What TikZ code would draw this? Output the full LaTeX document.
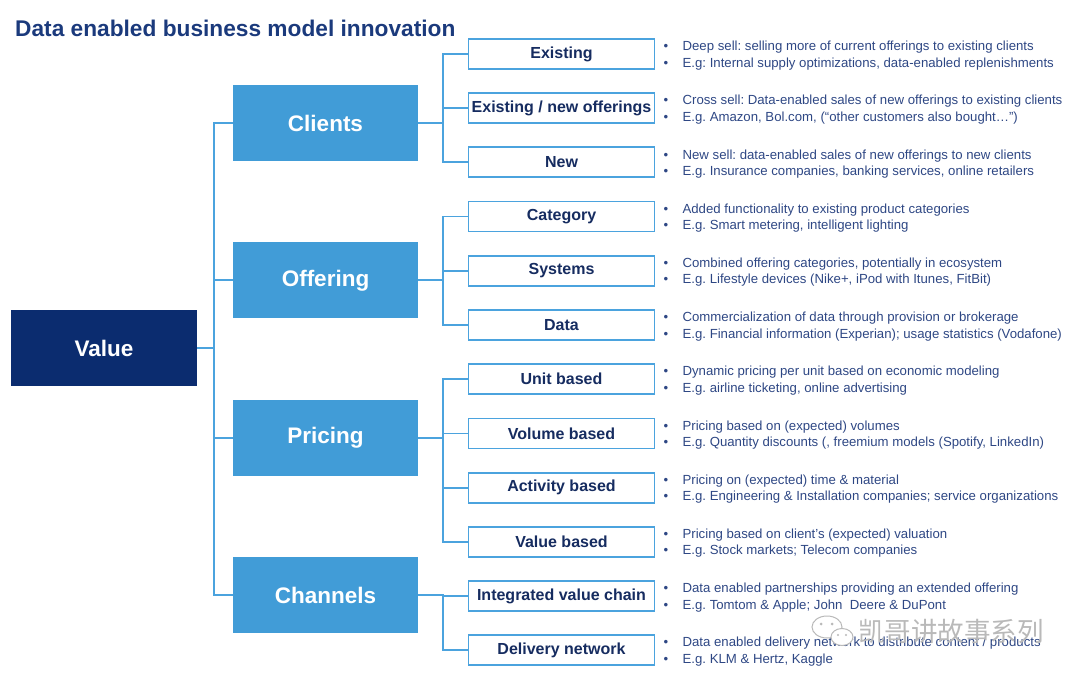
\documentclass[tikz,border=0pt]{standalone}
\usepackage{fontspec}
\setmainfont{Liberation Sans}
\newfontfamily\cjk{Noto Sans CJK SC}
\usetikzlibrary{positioning}
\definecolor{navy}{HTML}{0B2C6F}
\definecolor{titleblue}{HTML}{1B3A7C}
\definecolor{midblue}{HTML}{419CD7}
\definecolor{lineblue}{HTML}{4BA3DE}
\definecolor{subtext}{HTML}{162C60}
\definecolor{desctext}{HTML}{2E4784}
\newcommand\bul{\makebox[19pt][l]{\textbullet}}
\frenchspacing

\begin{document}
\begin{tikzpicture}[x=1pt,y=-1pt,% one unit = one pixel of the slide
					every node/.style={
						align=center,		% so that "\\" breaks lines
						inner sep=0pt
						},
					valbox/.style={rectangle,fill=navy,text=white,minimum width=186pt,minimum height=76pt,font=\fontsize{22.5}{26}\selectfont\bfseries},
					catbox/.style={rectangle,fill=midblue,text=white,minimum width=185pt,minimum height=76pt,font=\fontsize{22.5}{26}\selectfont\bfseries},
					subbox/.style={rectangle,draw=lineblue,line width=1.8pt,fill=white,text=subtext,minimum width=186pt,minimum height=30pt,font=\fontsize{16}{19}\selectfont\bfseries},
					desc/.style={align=left,text=desctext,yshift=-1.5pt,font=\fontsize{13.2}{16.5}\selectfont},
					conn/.style={draw=lineblue,line width=1.8pt},
					wmark/.style={text=gray!55,font=\fontsize{26.5}{30}\selectfont\cjk}
					]
\useasboundingbox (0,0) rectangle (1080,679);
\node[anchor=base west,text=titleblue,font=\fontsize{22.7}{27}\selectfont\bfseries](T) at (15,37){Data enabled business model innovation};
% left column
\node[valbox](Val) at (104,348){Value};
\node[catbox](Cli) at (325.5,123){Clients};
\node[catbox](Off)[below=81pt of Cli]{Offering};
\node[catbox](Pri)[below=81pt of Off]{Pricing};
\node[catbox](Cha)[below=81pt of Pri]{Channels};
% second column
\node[subbox](S1) at (561.5,54){Existing};
\node[subbox](S2)[below=22.4pt of S1]{Existing / new offerings};
\node[subbox](S3)[below=22.4pt of S2]{New};
\node[subbox](S4)[below=22.4pt of S3]{Category};
\node[subbox](S5)[below=22.4pt of S4]{Systems};
\node[subbox](S6)[below=22.4pt of S5]{Data};
\node[subbox](S7)[below=22.4pt of S6]{Unit based};
\node[subbox](S8)[below=22.4pt of S7]{Volume based};
\node[subbox](S9)[below=22.4pt of S8]{Activity based};
\node[subbox](S10)[below=22.4pt of S9]{Value based};
\node[subbox](S11)[below=22.4pt of S10]{Integrated value chain};
\node[subbox](S12)[below=22.4pt of S11]{Delivery network};
% bullets
\node[desc](D1)[right=8pt of S1]{\bul Deep sell: selling more of current offerings to existing clients\\\bul E.g: Internal supply optimizations, data-enabled replenishments};
\node[desc](D2)[right=8pt of S2]{\bul Cross sell: Data-enabled sales of new offerings to existing clients\\\bul E.g. Amazon, Bol.com, (“other customers also bought…”)};
\node[desc](D3)[right=8pt of S3]{\bul New sell: data-enabled sales of new offerings to new clients\\\bul E.g. Insurance companies, banking services, online retailers};
\node[desc](D4)[right=8pt of S4]{\bul Added functionality to existing product categories\\\bul E.g. Smart metering, intelligent lighting};
\node[desc](D5)[right=8pt of S5]{\bul Combined offering categories, potentially in ecosystem\\\bul E.g. Lifestyle devices (Nike+, iPod with Itunes, FitBit)};
\node[desc](D6)[right=8pt of S6]{\bul Commercialization of data through provision or brokerage\\\bul E.g. Financial information (Experian); usage statistics (Vodafone)};
\node[desc](D7)[right=8pt of S7]{\bul Dynamic pricing per unit based on economic modeling\\\bul E.g. airline ticketing, online advertising};
\node[desc](D8)[right=8pt of S8]{\bul Pricing based on (expected) volumes\\\bul E.g. Quantity discounts (, freemium models (Spotify, LinkedIn)};
\node[desc](D9)[right=8pt of S9]{\bul Pricing on (expected) time \& material\\\bul E.g. Engineering \& Installation companies; service organizations};
\node[desc](D10)[right=8pt of S10]{\bul Pricing based on client’s (expected) valuation\\\bul E.g. Stock markets; Telecom companies};
\node[desc](D11)[right=8pt of S11]{\bul Data enabled partnerships providing an extended offering\\\bul E.g. Tomtom \& Apple; John\ \ Deere \& DuPont};
\node[desc](D12)[right=8pt of S12]{\bul Data enabled delivery network to distribute content / products\\\bul E.g. KLM \& Hertz, Kaggle};
% connectors
\foreach \c in {Cli,Off,Pri,Cha}
	\draw[conn] (\c.west) -- ++(-19,0) |- (Val.east);
\foreach \s in {S1,S2,S3}
	\draw[conn] (\s.west) -- ++(-25,0) |- (Cli.east);
\foreach \s in {S4,S5,S6}
	\draw[conn] (\s.west) -- ++(-25,0) |- (Off.east);
\foreach \s in {S7,S8,S9,S10}
	\draw[conn] (\s.west) -- ++(-25,0) |- (Pri.east);
\foreach \s in {S11,S12}
	\draw[conn] (\s.west) -- ++(-25,0) |- (Cha.east);
% watermark
\draw[gray!55,line width=1pt,fill=white] (827,627) ellipse (15 and 11);
\draw[gray!55,line width=1pt,fill=white] (842,637) ellipse (11 and 8.5);
\fill[gray!55] (821,624) circle (1.5) (832,624) circle (1.5) (838,635) circle (1.2) (846,635) circle (1.2);
\node[wmark](WM) at (951,631){凯哥讲故事系列};
\end{tikzpicture}
\end{document}
